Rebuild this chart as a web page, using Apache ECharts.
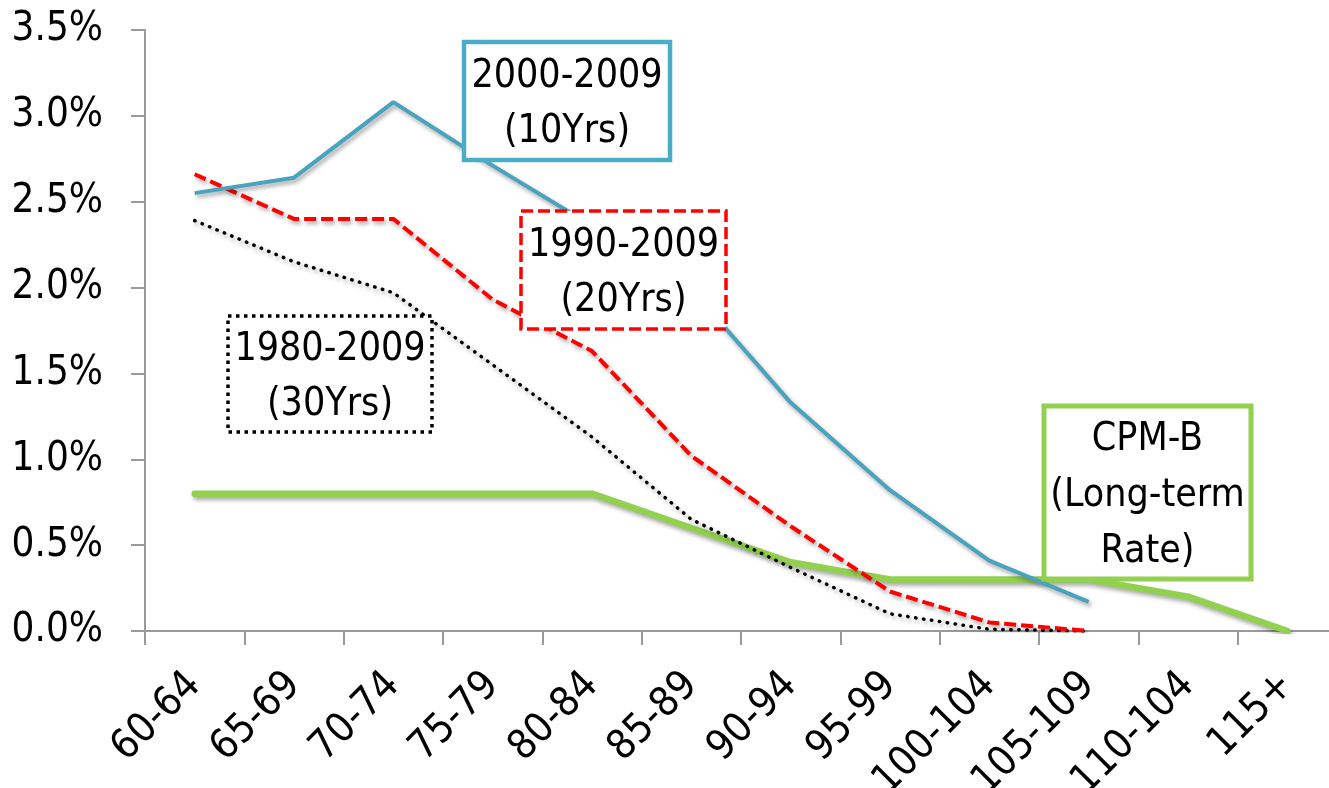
<!DOCTYPE html>
<html>
<head>
<meta charset="utf-8">
<script src="https://cdn.jsdelivr.net/npm/echarts@6/dist/echarts.min.js"></script>
<style>html,body{margin:0;padding:0;background:#fff;}#c{width:1329px;height:788px;}</style>
</head>
<body>
<div id="c"></div>
<script>
var categories = ['60-64','65-69','70-74','75-79','80-84','85-89','90-94','95-99','100-104','105-109','110-104','115+'];
var s2000 = [2.55, 2.64, 3.08, 2.71, 2.36, 1.99, 1.33, 0.82, 0.41, 0.17, null, null];
var s1990 = [2.66, 2.40, 2.40, 1.93, 1.63, 1.02, 0.61, 0.23, 0.05, 0.00, null, null];
var s1980 = [2.39, 2.15, 1.97, 1.55, 1.13, 0.65, 0.37, 0.10, 0.01, 0.00, null, null];
var sCPM  = [0.80, 0.80, 0.80, 0.80, 0.80, 0.60, 0.40, 0.30, 0.30, 0.30, 0.20, 0.00];
var yTicks = { min: 0, max: 3.5, interval: 0.5 };

var FONT = '"Liberation Sans Narrow", "Arial Narrow", "DejaVu Sans Condensed", sans-serif';
var shadow = { shadowBlur: 4, shadowColor: 'rgba(0,0,0,0.35)', shadowOffsetX: 2, shadowOffsetY: 3 };

function lineSeries(name, data, color, width, type, cap, z) {
  return {
    name: name, type: 'line', data: data, symbol: 'none', z: z,
    lineStyle: Object.assign({ color: color, width: width, type: type, cap: cap }, shadow)
  };
}

function box(x, y, w, h, color, lw, dash, lines, lh) {
  return [{
    type: 'rect', z: 100,
    shape: { x: x, y: y, width: w, height: h },
    style: { fill: '#fff', stroke: color, lineWidth: lw, lineDash: dash }
  }, {
    type: 'text', z: 101,
    x: x + w / 2, y: y + h / 2 + 3,
    style: { text: lines.join('\n'), font: '39px ' + FONT, fill: '#000', align: 'center', verticalAlign: 'middle', lineHeight: lh }
  }];
}

var chart = echarts.init(document.getElementById('c'));
chart.setOption({
  animation: false,
  grid: { left: 145, top: 30, width: 1192, height: 601, containLabel: false, outerBoundsMode: 'none' },
  xAxis: {
    type: 'category', data: categories, boundaryGap: true,
    axisLine: { lineStyle: { color: '#9a9a9a', width: 2 } },
    axisTick: { show: true, length: 14, lineStyle: { color: '#9a9a9a', width: 2 } },
    axisLabel: { rotate: 45, margin: 48, color: '#000', fontSize: 41, fontFamily: FONT, interval: 0 }
  },
  yAxis: {
    type: 'value', min: yTicks.min, max: yTicks.max, interval: yTicks.interval,
    splitLine: { show: false },
    axisLine: { show: true, lineStyle: { color: '#9a9a9a', width: 2 } },
    axisTick: { show: true, inside: false, length: 14, lineStyle: { color: '#9a9a9a', width: 2 } },
    axisLabel: { margin: 42, color: '#000', fontSize: 40, fontFamily: FONT, formatter: function (v) { return v.toFixed(1) + '%'; } }
  },
  series: [
    lineSeries('1980-2009 (30Yrs)', s1980, '#000', 3.5, [0.5, 7.5], 'round', 3),
    lineSeries('1990-2009 (20Yrs)', s1990, '#ff0000', 4, [12, 5], 'butt', 4),
    lineSeries('2000-2009 (10Yrs)', s2000, '#4aa3bd', 4, 'solid', 'butt', 5),
    lineSeries('CPM-B (Long-term Rate)', sCPM, '#92d050', 6.5, 'solid', 'round', 2)
  ],
  graphic: [].concat(
    box(464, 42, 206, 118, '#4bacc6', 4.5, null, ['2000-2009', '(10Yrs)'], 55),
    box(521, 211, 205, 118, '#ff0000', 3.5, [12, 5], ['1990-2009', '(20Yrs)'], 55),
    box(228, 316, 204, 116, '#000', 3.5, [3.5, 4.5], ['1980-2009', '(30Yrs)'], 55),
    box(1044, 406, 207, 173, '#92d050', 5, null, ['CPM-B', '(Long-term', 'Rate)'], 56)
  )
});
</script>
</body>
</html>
